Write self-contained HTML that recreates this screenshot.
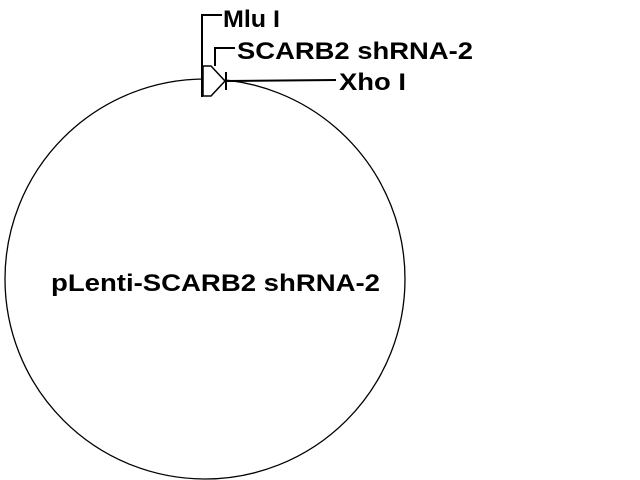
<!DOCTYPE html>
<html><head><style>
body{margin:0;background:#fff;width:640px;height:480px;overflow:hidden}
</style></head><body>
<svg width="640" height="480" xmlns="http://www.w3.org/2000/svg" style="position:absolute;left:0;top:0">
<circle cx="205" cy="279" r="200" fill="none" stroke="#000" stroke-width="1.3"/>
<polyline points="222,15 202,15 202,97" fill="none" stroke="#000" stroke-width="2"/>
<polyline points="235,48 215,48 215,66" fill="none" stroke="#000" stroke-width="2"/>
<polygon points="203,66 211,66 225,81 211,96 203,96" fill="#fff" stroke="#000" stroke-width="1.5"/>
<line x1="226" y1="72" x2="226" y2="90" stroke="#000" stroke-width="2"/>
<line x1="226" y1="81" x2="336" y2="80" stroke="#000" stroke-width="2"/>
<g font-family="Liberation Sans, sans-serif" font-weight="bold" font-size="24" fill="#000">
<text x="223" y="27" textLength="57" lengthAdjust="spacingAndGlyphs">Mlu I</text>
<text x="237" y="59" textLength="236" lengthAdjust="spacingAndGlyphs">SCARB2 shRNA-2</text>
<text x="339" y="90" textLength="67" lengthAdjust="spacingAndGlyphs">Xho I</text>
<text x="51" y="291" textLength="329" lengthAdjust="spacingAndGlyphs">pLenti-SCARB2 shRNA-2</text>
</g>
</svg>
</body></html>
